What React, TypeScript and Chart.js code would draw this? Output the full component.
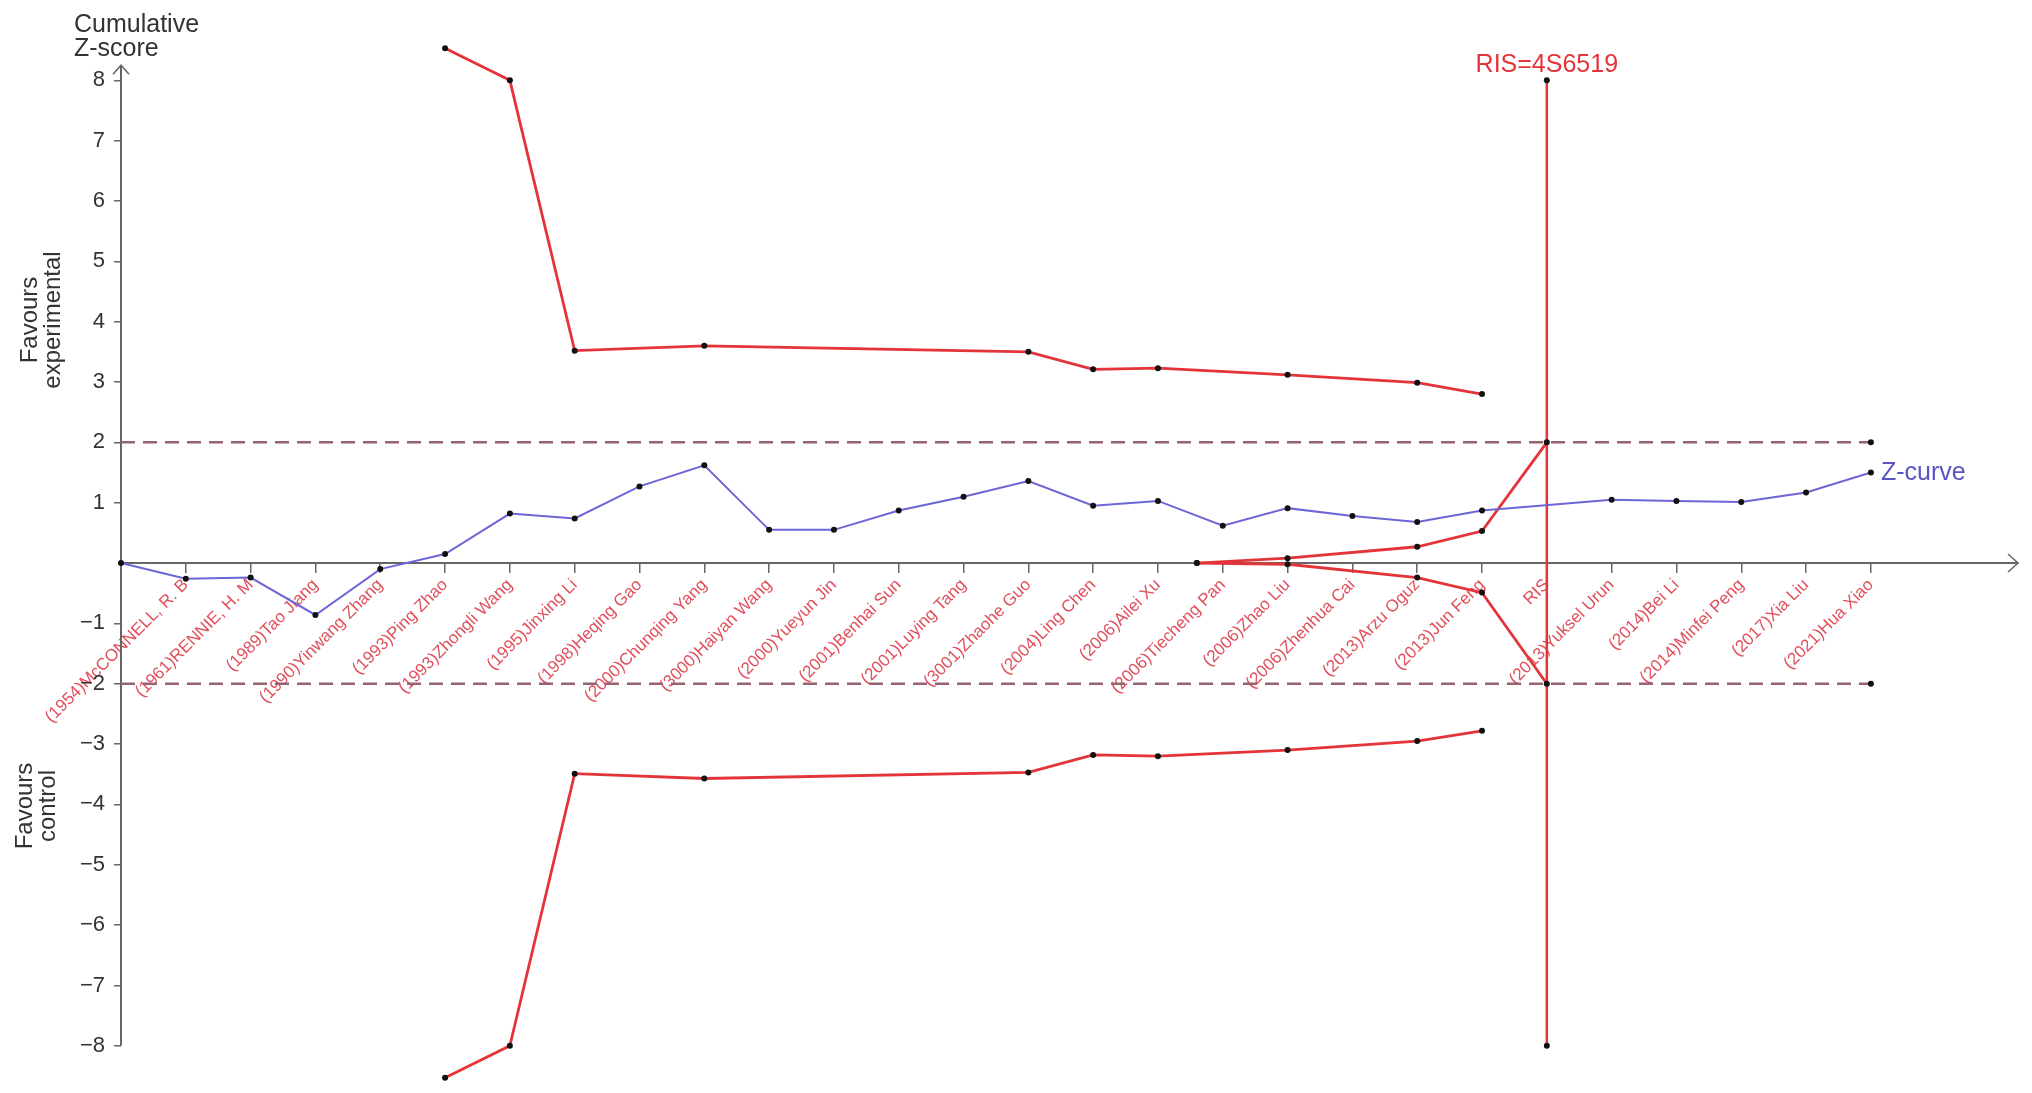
import React, { useEffect, useRef } from "react";
import { Chart, registerables } from "chart.js";

Chart.register(...registerables);

// ---------- data ----------
const studyLabels = [
  "(1954)McCONNELL, R. B",
  "(1961)RENNIE, H. M",
  "(1989)Tao Jiang",
  "(1990)Yinwang Zhang",
  "(1993)Ping Zhao",
  "(1993)Zhongli Wang",
  "(1995)Jinxing Li",
  "(1998)Heqing Gao",
  "(2000)Chunqing Yang",
  "(3000)Haiyan Wang",
  "(2000)Yueyun Jin",
  "(2001)Benhai Sun",
  "(2001)Luying Tang",
  "(3001)Zhaohe Guo",
  "(2004)Ling Chen",
  "(2006)Ailei Xu",
  "(2006)Tiecheng Pan",
  "(2006)Zhao Liu",
  "(2006)Zhenhua Cai",
  "(2013)Arzu Oguz",
  "(2013)Jun Feng",
  "RIS",
  "(2013)Yuksel Urun",
  "(2014)Bei Li",
  "(2014)Minfei Peng",
  "(2017)Xia Liu",
  "(2021)Hua Xiao",
];
const labelPositions = [1, 2, 3, 4, 5, 6, 7, 8, 9, 10, 11, 12, 13, 14, 15, 16, 17, 18, 19, 20, 21, 22, 23, 24, 25, 26, 27];

const zPositions = [0, 1, 2, 3, 4, 5, 6, 7, 8, 9, 10, 11, 12, 13, 14, 15, 16, 17, 18, 19, 20, 21, 23, 24, 25, 26, 27];
const zValues = [0, -0.26, -0.24, -0.86, -0.1, 0.15, 0.82, 0.74, 1.27, 1.62, 0.55, 0.55, 0.87, 1.1, 1.36, 0.95, 1.03, 0.62, 0.91, 0.78, 0.68, 0.87, 1.05, 1.03, 1.01, 1.17, 1.5];

const boundaryPositions = [5, 6, 7, 9, 14, 15, 16, 18, 20, 21];
const upperBoundary = [8.53, 8.0, 3.52, 3.6, 3.5, 3.21, 3.23, 3.12, 2.99, 2.8];
const lowerBoundary = [-8.53, -8.0, -3.49, -3.57, -3.47, -3.18, -3.2, -3.1, -2.95, -2.78];

const futilityPositions = [16.6, 18, 20, 21, 22];
const futilityUpper = [0, 0.08, 0.27, 0.53, 2.0];
const futilityLower = [0, -0.02, -0.24, -0.49, -2.0];

const risPosition = 22;
const risRange = [-8, 8];
const risText = "RIS=4S6519";

const conventionalPositions = [0, 27];
const conventionalLevel = 2;

const yTickValues = [-8, -7, -6, -5, -4, -3, -2, -1, 0, 1, 2, 3, 4, 5, 6, 7, 8];

// ---------- styles ----------
const FONT = "'Liberation Sans', Arial, Helvetica, sans-serif";
const RED = "#e3343a";
const LABEL_RED = "#e0505c";
const BLUE = "#6d66d6";
const DASH = "#966470";
const AXIS = "#666666";
const TEXT = "#333333";
const DOT = "#111111";

const toPts = (xs: number[], ys: number[]) => xs.map((x, i) => ({ x, y: ys[i] }));

const decorPlugin = {
  id: "decor",
  beforeDatasetsDraw(chart: any) {
    const ctx = chart.ctx;
    const xs = chart.scales.x;
    const ys = chart.scales.y;
    const x0 = xs.getPixelForValue(0);
    const y0 = ys.getPixelForValue(0);
    ctx.save();
    ctx.strokeStyle = AXIS;
    ctx.lineWidth = 2;
    // y axis line with arrow
    const yTop = ys.getPixelForValue(8.25);
    const yBot = ys.getPixelForValue(-8);
    ctx.beginPath();
    ctx.moveTo(x0, yBot);
    ctx.lineTo(x0, yTop);
    ctx.stroke();
    ctx.lineWidth = 1.5;
    ctx.beginPath();
    ctx.moveTo(x0 - 8, yTop + 9);
    ctx.lineTo(x0, yTop);
    ctx.lineTo(x0 + 8, yTop + 9);
    ctx.stroke();
    // x axis arrow
    const xr = chart.chartArea.right;
    ctx.beginPath();
    ctx.moveTo(xr - 10, y0 - 9);
    ctx.lineTo(xr, y0);
    ctx.lineTo(xr - 10, y0 + 9);
    ctx.stroke();
    ctx.restore();
  },
  afterDraw(chart: any) {
    const ctx = chart.ctx;
    const xs = chart.scales.x;
    const ys = chart.scales.y;
    ctx.save();
    // axis title
    ctx.fillStyle = TEXT;
    ctx.font = `25px ${FONT}`;
    ctx.textAlign = "left";
    ctx.textBaseline = "alphabetic";
    ctx.fillText("Cumulative", 66, 24);
    ctx.fillText("Z-score", 66, 48);
    // favours labels
    ctx.font = `24px ${FONT}`;
    const drawRot = (lines: string[], cx: number[], cy: number) => {
      lines.forEach((t, i) => {
        ctx.save();
        ctx.translate(cx[i], cy);
        ctx.rotate(-Math.PI / 2);
        ctx.textAlign = "center";
        ctx.textBaseline = "middle";
        ctx.fillText(t, 0, 0);
        ctx.restore();
      });
    };
    drawRot(["Favours", "experimental"], [22, 45], 312);
    drawRot(["Favours", "control"], [17, 40], 798);
    // RIS label
    ctx.fillStyle = RED;
    ctx.font = `25px ${FONT}`;
    ctx.textAlign = "center";
    ctx.textBaseline = "alphabetic";
    ctx.fillText(risText, xs.getPixelForValue(risPosition), ys.getPixelForValue(risRange[1]) - 8);
    // Z-curve label
    const lastX = zPositions[zPositions.length - 1];
    const lastY = zValues[zValues.length - 1];
    ctx.fillStyle = "#5a54c4";
    ctx.font = `25px ${FONT}`;
    ctx.textAlign = "left";
    ctx.textBaseline = "middle";
    ctx.fillText("Z-curve", xs.getPixelForValue(lastX) + 10, ys.getPixelForValue(lastY) + 1);
    ctx.restore();
  },
};

export default function App() {
  const canvasRef = useRef<HTMLCanvasElement | null>(null);

  useEffect(() => {
    const canvas = canvasRef.current;
    if (!canvas) return;
    const pointStyle = {
      pointRadius: 3,
      pointHoverRadius: 3,
      pointBackgroundColor: DOT,
      pointBorderColor: DOT,
      pointBorderWidth: 0,
    };
    const chart = new Chart(canvas, {
      type: "line",
      data: {
        datasets: [
          {
            label: "Z-curve",
            data: toPts(zPositions, zValues),
            borderColor: BLUE,
            borderWidth: 2,
            ...pointStyle,
            clip: false,
          } as any,
          {
            label: "Upper boundary",
            data: toPts(boundaryPositions, upperBoundary),
            borderColor: RED,
            borderWidth: 2.8,
            ...pointStyle,
            clip: false,
          },
          {
            label: "Lower boundary",
            data: toPts(boundaryPositions, lowerBoundary),
            borderColor: RED,
            borderWidth: 2.8,
            ...pointStyle,
            clip: false,
          },
          {
            label: "Futility upper",
            data: toPts(futilityPositions, futilityUpper),
            borderColor: RED,
            borderWidth: 2.8,
            ...pointStyle,
            clip: false,
          },
          {
            label: "Futility lower",
            data: toPts(futilityPositions, futilityLower),
            borderColor: RED,
            borderWidth: 2.8,
            ...pointStyle,
            clip: false,
          },
          {
            label: "RIS",
            data: risRange.map((y) => ({ x: risPosition, y })),
            borderColor: RED,
            borderWidth: 2.5,
            ...pointStyle,
            clip: false,
          },
          {
            label: "+2",
            data: conventionalPositions.map((x) => ({ x, y: conventionalLevel })),
            borderColor: DASH,
            borderWidth: 2.5,
            borderDash: [14, 8],
            ...pointStyle,
            pointRadius: [0, 3],
            clip: false,
          },
          {
            label: "-2",
            data: conventionalPositions.map((x) => ({ x, y: -conventionalLevel })),
            borderColor: DASH,
            borderWidth: 2.5,
            borderDash: [14, 8],
            ...pointStyle,
            pointRadius: [0, 3],
            clip: false,
          },
        ],
      },
      options: {
        animation: false,
        responsive: false,
        devicePixelRatio: 1,
        layout: { padding: { top: 18, bottom: 2, left: 0, right: 6 } },
        plugins: { legend: { display: false }, tooltip: { enabled: false } },
        elements: { line: { tension: 0 } },
        scales: {
          x: {
            type: "linear",
            position: { y: 0 } as any,
            min: 0,
            max: 29.27,
            afterBuildTicks: (scale: any) => {
              scale.ticks = labelPositions.map((v) => ({ value: v }));
            },
            afterFit: (scale: any) => {
              scale.height = 0;
              scale.paddingLeft = 0;
              scale.paddingRight = 0;
              scale.paddingTop = 0;
              scale.paddingBottom = 0;
            },
            ticks: {
              autoSkip: false,
              minRotation: 45,
              maxRotation: 45,
              padding: 3,
              color: LABEL_RED,
              font: { size: 17, family: FONT },
              callback: (value: any) => {
                const i = labelPositions.indexOf(Number(value));
                return i >= 0 ? studyLabels[i] : "";
              },
            },
            grid: {
              display: true,
              drawOnChartArea: false,
              drawTicks: true,
              tickLength: 9,
              color: AXIS,
              lineWidth: 1.5,
            },
            border: { display: true, color: AXIS, width: 2 },
          },
          y: {
            type: "linear",
            position: "left",
            min: -8.6,
            max: 8.9,
            afterBuildTicks: (scale: any) => {
              scale.ticks = yTickValues.map((v) => ({ value: v }));
            },
            afterFit: (scale: any) => {
              scale.width = 113;
              scale.paddingTop = 0;
              scale.paddingBottom = 0;
              scale.paddingLeft = 0;
              scale.paddingRight = 0;
            },
            ticks: {
              padding: 9,
              color: TEXT,
              font: { size: 22, family: FONT },
              callback: (value: any) => {
                const v = Number(value);
                if (v === 0) return "";
                return v < 0 ? "\u2212" + Math.abs(v) : String(v);
              },
            },
            grid: {
              display: true,
              drawOnChartArea: false,
              drawTicks: true,
              tickLength: 7,
              color: (c: any) => (c.tick && c.tick.value === 0 ? "rgba(0,0,0,0)" : AXIS),
              lineWidth: 1.5,
            },
            border: { display: false },
          },
        },
      },
      plugins: [decorPlugin],
    });
    return () => chart.destroy();
  }, []);

  return (
    <canvas
      ref={canvasRef}
      width={2016}
      height={1077}
      style={{ display: "block", width: 2016, height: 1077 }}
    />
  );
}
